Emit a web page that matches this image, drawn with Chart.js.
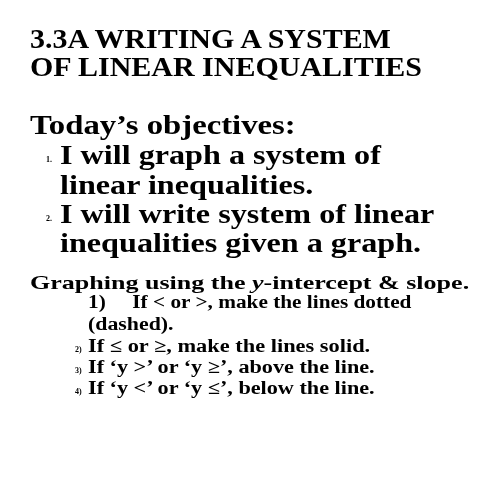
<!DOCTYPE html>
<html><head><meta charset="utf-8">
<script src="https://cdn.jsdelivr.net/npm/chart.js@4/dist/chart.umd.min.js"></script>
<style>
html,body{margin:0;padding:0;background:#fff;width:495px;height:495px;overflow:hidden}
#wrap{position:relative;width:495px;height:495px;font-family:"Liberation Serif","Times New Roman",serif;font-weight:bold;color:#000}
canvas{position:absolute;left:0;top:0}
.t{position:absolute;white-space:nowrap;line-height:1;transform-origin:left center}
.n{position:absolute;white-space:nowrap;line-height:1;font-size:8px}
</style></head><body>
<div id="wrap"><canvas id="c" width="495" height="495"></canvas></div>
<script>
const titleLines=["3.3A WRITING A SYSTEM","OF LINEAR INEQUALITIES"];
const objHeading="Today’s objectives:";
const objectives=[["I will graph a system of","linear inequalities."],["I will write system of linear","inequalities given a graph."]];
const ruleHeading='Graphing using the <i>y</i>-intercept &amp; slope.';
const rules=["If &lt; or &gt;, make the lines dotted","If ≤ or ≥, make the lines solid.","If ‘y &gt;’ or  ‘y ≥’, above the line.","If ‘y &lt;’ or  ‘y ≤’, below the line."];
new Chart(document.getElementById('c'),{type:'scatter',data:{datasets:[{data:[]}]},
 options:{responsive:false,animation:false,plugins:{legend:{display:false},tooltip:{enabled:false}},scales:{x:{display:false},y:{display:false}}}});
const w=document.getElementById('wrap');
function add(html,x,cy,size,sx,cls){const d=document.createElement('div');d.className=cls||'t';d.innerHTML=html;d.style.left=x+'px';d.style.top=(cy-size*0.55)+'px';d.style.fontSize=size+'px';if(sx)d.style.transform='scaleX('+sx+')';w.appendChild(d);}
add(titleLines[0],30,40,27.5,1.09);add(titleLines[1],30,68,27.5,1.09);
add(objHeading,30,126,27.5,1.19);
add("1.",46,160,8,0,'n');add(objectives[0][0],60,156,27.5,1.17);add(objectives[0][1],60,186,27.5,1.17);
add("2.",46,219,8,0,'n');add(objectives[1][0],60,215,27.5,1.17);add(objectives[1][1],60,244,27.5,1.17);
add(ruleHeading,30,283,19,1.37);
add("1)&nbsp;&nbsp;&nbsp;&nbsp;&nbsp;"+rules[0],88,303,18.5,1.15);
add("(dashed).",88,325,18.5,1.18);
add("2)",75,350,8,0,'n');add(rules[1],88,347,18.5,1.21);
add("3)",75,371,8,0,'n');add(rules[2],88,368,18.5,1.2);
add("4)",75,392,8,0,'n');add(rules[3],88,389,18.5,1.2);
</script></body></html>
